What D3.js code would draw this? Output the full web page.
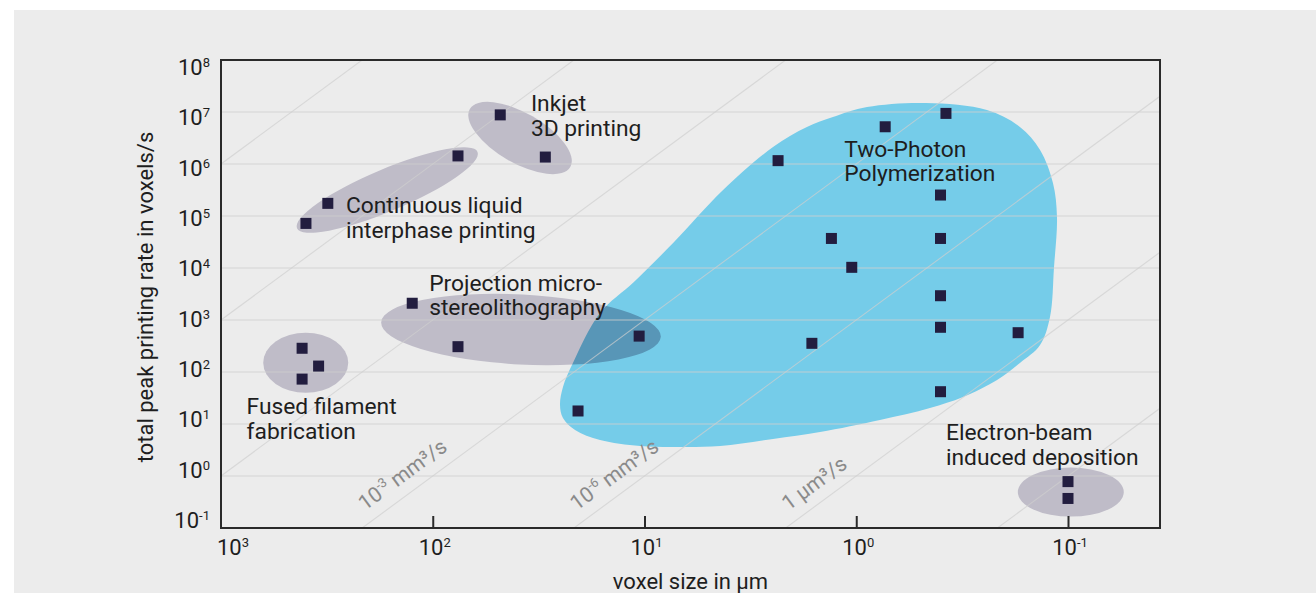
<!DOCTYPE html>
<html><head><meta charset="utf-8">
<script src="https://cdn.jsdelivr.net/npm/d3@7"></script>
<style>
html,body{margin:0;padding:0;background:#ffffff;}
svg{display:block;font-family:Roboto,"Noto Sans",sans-serif;}
</style></head><body>
<svg id="chart" width="1316" height="593"></svg>
<script>
// ---------------- DATA ----------------
const technologies = ["Fused filament fabrication","Continuous liquid interphase printing","Inkjet 3D printing","Projection micro-stereolithography","Two-Photon Polymerization","Electron-beam induced deposition"];
// voxel size (µm) and total peak printing rate (voxels/s) per technology
const fffSize  = [414, 346, 414];
const fffRate  = [286, 130, 73];
const clipSize = [313, 397, 76];
const clipRate = [1.75e5, 7.2e4, 1.43e6];
const inkSize  = [48, 29.4];
const inkRate  = [8.8e6, 1.36e6];
const psSize   = [125, 76, 10.6];
const psRate   = [2100, 307, 490];
const tppSize  = [20.6, 2.34, 1.31, 1.05, 1.62, 0.73, 0.377, 0.40, 0.40, 0.40, 0.40, 0.172, 0.40];
const tppRate  = [17.8, 1.16e6, 3.7e4, 1.03e4, 356, 5.2e6, 9.4e6, 2.53e5, 3.7e4, 2930, 724, 570, 41.8];
const ebidSize = [0.1, 0.1];
const ebidRate = [0.78, 0.37];
// region centres (voxel size µm, rate) for the grey clusters
const clusterSize = [398, 164, 38.7, 38.3, 0.097];
const clusterRate = [151, 3.16e5, 3.16e6, 656, 0.49];
// TPP region outline, exponents of voxel size and rate
const tppHullLogSize = [-0.329,-0.617,-0.773,-0.868,-0.929,-0.948,-0.934,-0.915,-0.868,-0.773,-0.665,-0.504,-0.348,-0.112,0.171,0.393,0.643,0.832,1.021,1.210,1.328,1.385,1.399,1.385,1.338,1.210,1.050,0.865,0.629,0.393,0.233,0.110,-0.051];
const tppHullLogRate = [7.173,7.038,6.712,6.269,5.635,4.981,4.019,3.058,2.519,2.173,1.846,1.519,1.308,1.077,0.846,0.712,0.577,0.558,0.577,0.692,0.885,1.115,1.365,1.712,2.173,3.135,3.731,4.481,5.5,6.327,6.712,6.904,7.096];
// constant volume-rate lines, exponent of µm³/s
const volumeExps = [-9,-6,-3,0,3,6,9,12,15];
const volumeLabelExps = [6, 3, 0];
const volumeLabels = [["10","-3"," mm³/s"],["10","-6"," mm³/s"],["1 µm³/s"]];
// tick labels
const yTickExps = [-1,0,1,2,3,4,5,6,7,8];
const xTickExps = [3,2,1,0,-1];
const xAxisTitle = "voxel size in µm";
const yAxisTitle = "total peak printing rate in voxels/s";
// annotation labels (text lines, anchor voxel size, anchor rate)
const labelLines = [["Fused filament","fabrication"],["Continuous liquid","interphase printing"],["Inkjet","3D printing"],["Projection micro-","stereolithography"],["Two-Photon","Polymerization"],["Electron-beam","induced deposition"]];
const labelSize = [757, 257, 34.4, 104, 1.14, 0.377];
const labelRate = [15.4, 1.13e5, 1.03e7, 3690, 1.38e6, 4.92];

// ---------------- LAYOUT ----------------
const W = 1316, H = 593;
const L = 221, R = 1160, T = 60, B = 528;
const svg = d3.select("#chart");

const x = d3.scaleLog().domain([1000, Math.pow(10, -1.4345)]).range([L, R]);
const y = d3.scaleLog().domain([0.1, 1e8]).range([B, T]);
const yLab = d3.scaleLog().domain([0.1, 1e8]).range([520, 67]);

svg.append("rect").attr("x",0).attr("y",0).attr("width",W).attr("height",H).attr("fill","#ffffff");
svg.append("rect").attr("x",14).attr("y",10).attr("width",W-14).attr("height",H-10).attr("fill","#ececec");

svg.append("defs").append("clipPath").attr("id","plotclip")
  .append("rect").attr("x",L).attr("y",T).attr("width",R-L).attr("height",B-T);

const plot = svg.append("g").attr("clip-path","url(#plotclip)");

// TPP region
const hull = tppHullLogSize.map((s,i)=>[Math.pow(10,s), Math.pow(10,tppHullLogRate[i])]);
plot.append("path")
  .attr("d", d3.line().x(d=>x(d[0])).y(d=>y(d[1])).curve(d3.curveCatmullRomClosed.alpha(0.5))(hull))
  .attr("fill","#75cce9");

// grey cluster ellipses
const ellipseStyle = [{a:42.5,b:30,ang:0},{a:98,b:21,ang:-22.9},{a:58,b:25,ang:30},{a:140,b:35,ang:3},{a:53,b:24.5,ang:0}];
clusterSize.forEach((s,i)=>{
  const cx = x(s), cy = y(clusterRate[i]), st = ellipseStyle[i];
  plot.append("ellipse").attr("cx",cx).attr("cy",cy).attr("rx",st.a).attr("ry",st.b)
    .attr("transform",`rotate(${st.ang},${cx},${cy})`)
    .attr("fill","#bfbcc8").style("mix-blend-mode","multiply");
});

// horizontal grid
plot.selectAll("line.grid").data(yTickExps).enter().append("line")
  .attr("x1",L).attr("x2",R).attr("y1",d=>y(Math.pow(10,d))).attr("y2",d=>y(Math.pow(10,d)))
  .attr("stroke","#cfcfcf").attr("stroke-opacity",0.55).attr("stroke-width",1.3);

// constant volume-rate lines
const dMax = x.domain()[0], dMin = x.domain()[1];
plot.selectAll("line.vol").data(volumeExps).enter().append("line")
  .attr("x1",x(dMax)).attr("y1",k=>y(Math.pow(10,k)/Math.pow(dMax,3)))
  .attr("x2",x(dMin)).attr("y2",k=>y(Math.pow(10,k)/Math.pow(dMin,3)))
  .attr("stroke","#cfcfcf").attr("stroke-opacity",0.7).attr("stroke-width",1.1);

// labels of volume lines
const ang = Math.abs(Math.atan((3*(y(1)-y(10)))/(x(10)-x(1)))) * 180/Math.PI;
volumeLabelExps.forEach((k,i)=>{
  const r = Math.pow(10,-0.86);
  const d = Math.pow(Math.pow(10,k)/r, 1/3);
  const t = svg.append("text")
    .attr("transform",`translate(${x(d)},${y(r)}) rotate(${-ang})`)
    .attr("x",0).attr("y",-12).attr("fill","#8a8a8a").attr("font-size",21);
  const parts = volumeLabels[i];
  if (parts.length === 1) { t.text(parts[0]); }
  else {
    t.append("tspan").text(parts[0]);
    t.append("tspan").attr("font-size",13).attr("dy",-8).text(parts[1]);
    t.append("tspan").attr("dy",8).text(parts[2]);
  }
});

// frame
svg.append("rect").attr("x",L).attr("y",T).attr("width",R-L).attr("height",B-T)
  .attr("fill","none").attr("stroke","#2a2a2a").attr("stroke-width",2);

// x axis ticks (inward)
const xAxis = d3.axisBottom(x).tickValues(xTickExps.slice(1).map(e=>Math.pow(10,e)))
  .tickSizeInner(-12).tickSizeOuter(0).tickFormat("");
const gx = svg.append("g").attr("transform",`translate(0,${B})`).call(xAxis);
gx.select(".domain").remove();
gx.selectAll(".tick line").attr("stroke","#2a2a2a").attr("stroke-width",2);

function pow10(sel, e){
  sel.append("tspan").text("10");
  sel.append("tspan").attr("font-size",13).attr("dy",-8).text(String(e));
}
xTickExps.forEach((e,i)=>{
  const t = svg.append("text").attr("y",555).attr("font-size",22).attr("fill","#1e1e1e");
  if (i===0) t.attr("x",x(Math.pow(10,e))-4).attr("text-anchor","start");
  else t.attr("x",x(Math.pow(10,e))+2).attr("text-anchor","middle");
  pow10(t,e);
});

// y axis labels
const yAxis = d3.axisLeft(y).tickValues(yTickExps.map(e=>Math.pow(10,e))).tickSize(0).tickFormat("");
const gy = svg.append("g").attr("transform",`translate(${L},0)`).call(yAxis);
gy.select(".domain").remove();
yTickExps.forEach(e=>{
  const t = svg.append("text").attr("x",210).attr("y",yLab(Math.pow(10,e))+8)
    .attr("text-anchor","end").attr("font-size",22).attr("fill","#1e1e1e");
  pow10(t,e);
});

// markers
const series = [[fffSize,fffRate],[clipSize,clipRate],[inkSize,inkRate],[psSize,psRate],[tppSize,tppRate],[ebidSize,ebidRate]];
const pts = [];
series.forEach(([s,r])=>s.forEach((v,i)=>pts.push([v,r[i]])));
const ms = 11;
svg.append("g").selectAll("rect").data(pts).enter().append("rect")
  .attr("x",d=>x(d[0])-ms/2).attr("y",d=>y(d[1])-ms/2).attr("width",ms).attr("height",ms)
  .attr("fill","#221d3f");

// annotation labels
labelLines.forEach((lines,i)=>{
  const t = svg.append("text").attr("font-size",22.8).attr("fill","#1e1e1e")
    .attr("x",x(labelSize[i])).attr("y",y(labelRate[i]));
  lines.forEach((ln,j)=>{
    t.append("tspan").attr("x",x(labelSize[i])).attr("dy", j===0?0:24.5).text(ln);
  });
});

// axis titles
svg.append("text").attr("x",(L+R)/2).attr("y",589).attr("text-anchor","middle")
  .attr("font-size",22).attr("fill","#1e1e1e").text(xAxisTitle);
svg.append("text").attr("transform",`translate(153,297) rotate(-90)`).attr("text-anchor","middle")
  .attr("font-size",22).attr("fill","#1e1e1e").text(yAxisTitle);
</script>
</body></html>
